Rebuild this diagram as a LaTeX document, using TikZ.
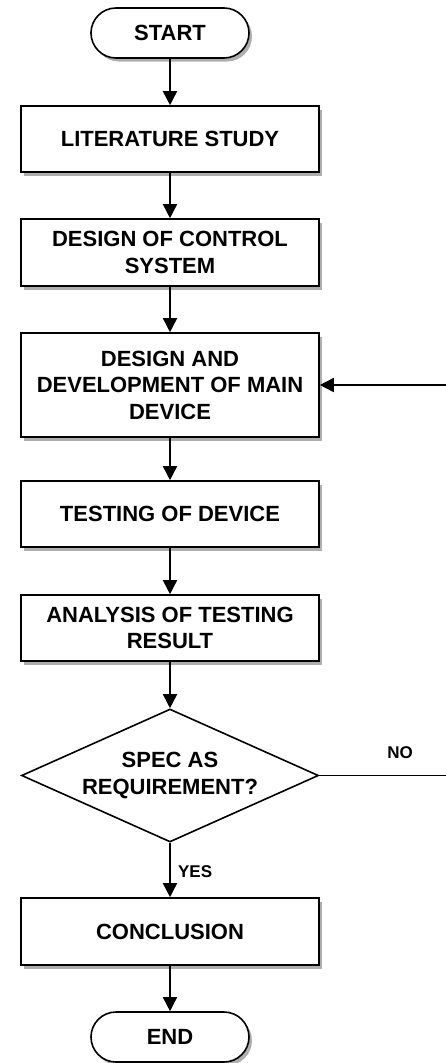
\documentclass[tikz,border=0pt]{standalone}
\usepackage{fontspec}
\setmainfont{Liberation Sans}
\usetikzlibrary{shapes.geometric,shapes.misc,shadows,arrows.meta}
\begin{document}
\begin{tikzpicture}[x=1pt,y=1pt,
  font=\fontsize{22}{26.5}\selectfont\bfseries,
  shad/.style={drop shadow={shadow xshift=3pt,shadow yshift=-3.5pt,fill=black!45,opacity=0.7}},
  procbox/.style={draw,line width=1.6pt,fill=white,shad,minimum width=298pt,inner sep=0pt,align=center},
  termbox/.style={draw,line width=1.6pt,fill=white,shad,rounded rectangle,minimum width=158pt,minimum height=50pt,inner sep=0pt},
  decbox/.style={draw,line width=1.6pt,fill=white,diamond,minimum width=297pt,minimum height=133pt,inner sep=0pt},
  conn/.style={line width=1.6pt,-{Triangle[length=14pt,width=14pt]}},
  lbl/.style={font=\fontsize{17}{20}\selectfont\bfseries}]
\useasboundingbox (0,0) rectangle (446,-1063);
\node[termbox] (start) at (170,-33) {START};
\node[procbox,minimum height=66pt] (lit) at (170,-139) {LITERATURE STUDY};
\node[procbox,minimum height=67pt] (dcs) at (170,-252.5) {DESIGN OF CONTROL\\SYSTEM};
\node[procbox,minimum height=104pt] (ddm) at (170,-385) {DESIGN AND\\DEVELOPMENT OF MAIN\\DEVICE};
\node[procbox,minimum height=66pt] (tod) at (170,-514) {TESTING OF DEVICE};
\node[procbox,minimum height=66pt] (ana) at (170,-628) {ANALYSIS OF TESTING\\RESULT};
\node[decbox] (spec) at (170,-775.5) {};
\node[align=center] (spectext) at (spec.center) {SPEC AS\\REQUIREMENT?};
\node[procbox,minimum height=67pt] (con) at (170,-931.5) {CONCLUSION};
\node[termbox] (end) at (170,-1037) {END};
\coordinate (r1) at (450,-775.5);
\coordinate (r2) at (450,-385);
\draw[conn] (start) -- (lit);
\draw[conn] (lit) -- (dcs);
\draw[conn] (dcs) -- (ddm);
\draw[conn] (ddm) -- (tod);
\draw[conn] (tod) -- (ana);
\draw[conn] (ana) -- (spec.north);
\draw[conn] (spec.south) -- node[lbl,right,xshift=4pt,yshift=-2pt] (yes) {YES} (con);
\draw[conn] (con) -- (end);
\draw[conn] (spec.east) -- (r1) -- (r2) -- (ddm.east);
\node[lbl] (no) at (400,-753) {NO};
\end{tikzpicture}
\end{document}
